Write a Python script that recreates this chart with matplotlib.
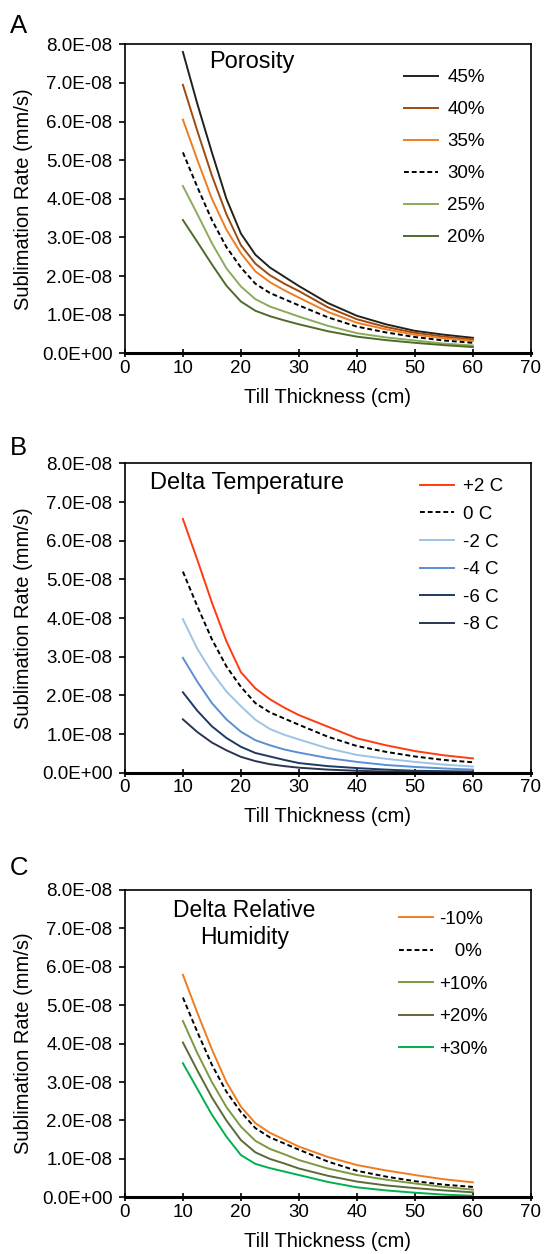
import matplotlib
matplotlib.use("Agg")
import matplotlib.pyplot as plt
from matplotlib.ticker import FuncFormatter, MultipleLocator

plt.rcParams['font.family'] = ['Liberation Sans', 'DejaVu Sans']

# till thickness (cm)
thick = [10, 12.5, 15, 17.5, 20, 22.5, 25, 27.5, 30, 35, 40, 45, 50, 55, 60]

# baseline run (30% porosity, 0 C, 0% RH), values in 1e-8 mm/s
base = [5.2, 4.3, 3.45, 2.75, 2.22, 1.8, 1.56, 1.4, 1.24, 0.93, 0.69, 0.54, 0.42, 0.33, 0.27]

# panel A - porosity
por_labels = ['45%', '40%', '35%', '30%', '25%', '20%']
por_45 = [7.8, 6.45, 5.2, 4.0, 3.1, 2.55, 2.22, 1.98, 1.74, 1.3, 0.97, 0.75, 0.58, 0.48, 0.4]
por_40 = [6.95, 5.75, 4.6, 3.6, 2.8, 2.32, 2.02, 1.8, 1.61, 1.19, 0.88, 0.68, 0.53, 0.43, 0.36]
por_35 = [6.05, 5.0, 4.0, 3.2, 2.59, 2.12, 1.84, 1.63, 1.44, 1.07, 0.79, 0.62, 0.48, 0.39, 0.32]
por_25 = [4.33, 3.6, 2.85, 2.2, 1.73, 1.4, 1.21, 1.08, 0.95, 0.71, 0.52, 0.41, 0.33, 0.25, 0.2]
por_20 = [3.45, 2.88, 2.3, 1.75, 1.34, 1.1, 0.96, 0.85, 0.75, 0.57, 0.43, 0.34, 0.27, 0.21, 0.16]
por_colors = ['#22221c', '#9e4a10', '#ee7d22', 'black', '#8aab5a', '#4f6b2a']

# panel B - delta temperature
tmp_labels = ['+2 C', '0 C', '-2 C', '-4 C', '-6 C', '-8 C']
tmp_p2 = [6.56, 5.5, 4.4, 3.4, 2.6, 2.18, 1.9, 1.68, 1.49, 1.19, 0.89, 0.71, 0.56, 0.45, 0.37]
tmp_m2 = [3.97, 3.2, 2.6, 2.1, 1.72, 1.37, 1.13, 0.98, 0.86, 0.63, 0.46, 0.36, 0.28, 0.21, 0.16]
tmp_m4 = [2.97, 2.35, 1.8, 1.38, 1.06, 0.84, 0.71, 0.6, 0.52, 0.38, 0.28, 0.2, 0.15, 0.11, 0.08]
tmp_m6 = [2.08, 1.6, 1.2, 0.9, 0.67, 0.51, 0.42, 0.33, 0.25, 0.17, 0.12, 0.08, 0.05, 0.04, 0.03]
tmp_m8 = [1.38, 1.05, 0.78, 0.58, 0.41, 0.3, 0.22, 0.17, 0.13, 0.08, 0.05, 0.03, 0.02, 0.01, 0.01]
tmp_colors = ['#ff3b0f', 'black', '#9dc3e6', '#5b8fd4', '#1d3a62', '#283650']

# panel C - delta relative humidity
rh_labels = ['-10%', '   0%', '+10%', '+20%', '+30%']
rh_m10 = [5.79, 4.8, 3.85, 3.0, 2.36, 1.93, 1.68, 1.5, 1.32, 1.05, 0.84, 0.7, 0.58, 0.47, 0.39]
rh_p10 = [4.59, 3.75, 3.0, 2.35, 1.84, 1.47, 1.26, 1.12, 0.97, 0.75, 0.58, 0.46, 0.36, 0.27, 0.2]
rh_p20 = [4.03, 3.3, 2.6, 2.0, 1.49, 1.17, 1.0, 0.88, 0.75, 0.56, 0.41, 0.31, 0.24, 0.18, 0.13]
rh_p30 = [3.49, 2.82, 2.15, 1.58, 1.1, 0.87, 0.76, 0.67, 0.58, 0.4, 0.26, 0.18, 0.12, 0.07, 0.04]
rh_colors = ['#ee7d22', 'black', '#7a9a3e', '#5a6b38', '#00b050']


def sci(v, pos):
    return f"{v:.1E}"


def setup(ax, letter, ly):
    ax.set_xlim(0, 70)
    ax.set_ylim(0, 8e-8)
    ax.xaxis.set_major_locator(MultipleLocator(10))
    ax.yaxis.set_major_locator(MultipleLocator(1e-8))
    ax.yaxis.set_major_formatter(FuncFormatter(sci))
    ax.tick_params(axis='x', direction='inout', length=6, width=1.2, labelsize=13.5, pad=1.5)
    ax.tick_params(axis='y', direction='out', length=4, width=1.2, labelsize=13.5, pad=5)
    for s in ['top', 'right', 'left']:
        ax.spines[s].set_linewidth(1.2)
    ax.spines['bottom'].set_linewidth(2.2)
    ax.set_xlabel('Till Thickness (cm)', fontsize=14.5, labelpad=8)
    ax.set_ylabel('Sublimation Rate (mm/s)', fontsize=14.5, labelpad=6)
    ax.text(-0.283, ly, letter, transform=ax.transAxes, fontsize=18.5, va='baseline')


def draw(ax, series, labels, colors):
    for ys, lab, c in zip(series, labels, colors):
        vals = [v * 1e-8 for v in ys]
        if c == 'black':
            ax.plot(thick, vals, color=c, lw=1.4, ls=(0, (2.5, 1.5)), label=lab)
        else:
            ax.plot(thick, vals, color=c, lw=1.4, label=lab)


def legend(ax, x, y, spacing, textpad):
    ax.legend(loc='upper right', bbox_to_anchor=(x, y), frameon=False, fontsize=13.5,
              borderaxespad=0, borderpad=0, handlelength=1.81,
              labelspacing=spacing, handletextpad=textpad)


fig = plt.figure(figsize=(5.44, 12.54), dpi=100)
axA = fig.add_axes([0.2296, 0.7183, 0.7463, 0.2464])
axB = fig.add_axes([0.2296, 0.3838, 0.7463, 0.2467])
axC = fig.add_axes([0.2296, 0.0452, 0.7463, 0.2451])

draw(axA, [por_45, por_40, por_35, base, por_25, por_20], por_labels, por_colors)
setup(axA, 'A', 1.036)
axA.text(0.207, 0.944, 'Porosity', transform=axA.transAxes, fontsize=17, va='center')
legend(axA, 0.887, 0.919, 0.79, 0.48)

draw(axB, [tmp_p2, base, tmp_m2, tmp_m4, tmp_m6, tmp_m8], tmp_labels, tmp_colors)
setup(axB, 'B', 1.027)
axB.text(0.063, 0.935, 'Delta Temperature', transform=axB.transAxes, fontsize=17, va='center')
legend(axB, 0.931, 0.952, 0.56, 0.48)

draw(axC, [rh_m10, base, rh_p10, rh_p20, rh_p30], rh_labels, rh_colors)
setup(axC, 'C', 1.049)
axC.text(0.294, 0.889, 'Delta Relative\nHumidity', transform=axC.transAxes, fontsize=16.5,
         va='center', ha='center', linespacing=1.25)
legend(axC, 0.893, 0.932, 0.82, 0.32)

fig.savefig('out.png', dpi=100)
plt.close(fig)
